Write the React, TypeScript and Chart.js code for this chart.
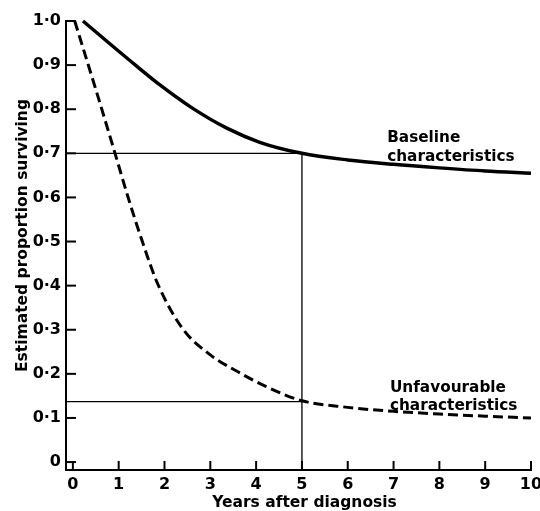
import React, { useEffect, useRef } from "react";
import { Chart, registerables } from "chart.js";

Chart.register(...registerables);

const X_TICKS = [0, 1, 2, 3, 4, 5, 6, 7, 8, 9, 10];
const Y_TICKS = [0, 0.1, 0.2, 0.3, 0.4, 0.5, 0.6, 0.7, 0.8, 0.9, 1.0];
const Y_LABELS = ["0", "0·1", "0·2", "0·3", "0·4", "0·5", "0·6", "0·7", "0·8", "0·9", "1·0"];

const X_TITLE = "Years after diagnosis";
const Y_TITLE = "Estimated proportion surviving";

const BASELINE = [
  { x: 0.22, y: 1.0 },
  { x: 0.8, y: 0.949 },
  { x: 1.4, y: 0.897 },
  { x: 1.9, y: 0.855 },
  { x: 2.6, y: 0.803 },
  { x: 3.36, y: 0.757 },
  { x: 4.08, y: 0.725 },
  { x: 5.0, y: 0.7 },
  { x: 6.0, y: 0.685 },
  { x: 7.0, y: 0.675 },
  { x: 8.0, y: 0.667 },
  { x: 9.0, y: 0.66 },
  { x: 10.0, y: 0.655 },
];

const UNFAVOURABLE = [
  { x: 0.04, y: 1.0 },
  { x: 0.5, y: 0.845 },
  { x: 0.92, y: 0.7 },
  { x: 1.2, y: 0.602 },
  { x: 1.5, y: 0.505 },
  { x: 1.86, y: 0.402 },
  { x: 2.4, y: 0.302 },
  { x: 3.0, y: 0.243 },
  { x: 3.65, y: 0.202 },
  { x: 4.2, y: 0.172 },
  { x: 5.0, y: 0.139 },
  { x: 6.0, y: 0.124 },
  { x: 7.0, y: 0.115 },
  { x: 8.0, y: 0.109 },
  { x: 9.0, y: 0.104 },
  { x: 10.0, y: 0.1 },
];

const X_MIN = -0.15;
const Y_MIN = -0.018;

const GUIDE_BASELINE = [
  { x: X_MIN, y: 0.7 },
  { x: 5, y: 0.7 },
  { x: 5, y: Y_MIN },
];
const GUIDE_UNFAV = [
  { x: X_MIN, y: 0.137 },
  { x: 5, y: 0.137 },
];

const LABELS = [
  { x: 6.86, y: 0.725, lines: ["Baseline", "characteristics"] },
  { x: 6.92, y: 0.159, lines: ["Unfavourable", "characteristics"] },
];

const FONT = "'DejaVu Sans', sans-serif";

const decorations = {
  id: "decorations",
  afterDraw(chart: any) {
    const { ctx, chartArea, scales } = chart;
    ctx.save();
    ctx.strokeStyle = "#000";
    ctx.lineWidth = 2;
    for (const v of Y_TICKS) {
      const py = scales.y.getPixelForValue(v);
      ctx.beginPath();
      ctx.moveTo(chartArea.left, py);
      ctx.lineTo(chartArea.left + 10, py);
      ctx.stroke();
    }
    for (const v of X_TICKS) {
      const px = scales.x.getPixelForValue(v);
      ctx.beginPath();
      ctx.moveTo(px, chartArea.bottom);
      ctx.lineTo(px, chartArea.bottom - 9);
      ctx.stroke();
    }
    ctx.fillStyle = "#000";
    ctx.font = `bold 15.3px ${FONT}`;
    ctx.textAlign = "left";
    ctx.textBaseline = "alphabetic";
    for (const lab of LABELS) {
      const px = scales.x.getPixelForValue(lab.x);
      const py = scales.y.getPixelForValue(lab.y);
      lab.lines.forEach((t, i) => ctx.fillText(t, px, py + i * 18.5));
    }
    // axis titles
    ctx.font = `bold 15.5px ${FONT}`;
    ctx.textAlign = "center";
    ctx.fillText(X_TITLE, (chartArea.left + chartArea.right) / 2 + 6, chart.height - 4);
    ctx.translate(27, (chartArea.top + chartArea.bottom) / 2 - 10);
    ctx.rotate(-Math.PI / 2);
    ctx.fillText(Y_TITLE, 0, 0);
    ctx.restore();
  },
};

export default function App() {
  const ref = useRef<HTMLCanvasElement>(null);
  useEffect(() => {
    if (!ref.current) return;
    const tickFont = { family: FONT, size: 16, weight: "bold" as const };
    const chart = new Chart(ref.current, {
      type: "line",
      data: {
        datasets: [
          {
            data: BASELINE,
            borderColor: "#000",
            borderWidth: 3.5,
            pointRadius: 0,
            cubicInterpolationMode: "monotone",
            clip: false as any,
          },
          {
            data: UNFAVOURABLE,
            borderColor: "#000",
            borderWidth: 3,
            borderDash: [10, 5],
            pointRadius: 0,
            cubicInterpolationMode: "monotone",
            clip: false as any,
          },
          {
            data: GUIDE_BASELINE,
            borderColor: "#000",
            borderWidth: 1.3,
            pointRadius: 0,
            tension: 0,
          },
          {
            data: GUIDE_UNFAV,
            borderColor: "#000",
            borderWidth: 1.3,
            pointRadius: 0,
            tension: 0,
          },
        ],
      },
      options: {
        animation: false,
        responsive: false,
        layout: { padding: { top: 21, right: 9, left: 0, bottom: 0 } },
        plugins: { legend: { display: false }, tooltip: { enabled: false } },
        scales: {
          x: {
            type: "linear",
            min: X_MIN,
            max: 10,
            afterBuildTicks: (s: any) => {
              s.ticks = X_TICKS.map((v) => ({ value: v }));
            },
            afterFit: (s: any) => {
              s.height = 41;
              s.paddingLeft = 0;
              s.paddingRight = 0;
            },
            grid: { display: true, drawOnChartArea: false, drawTicks: false, tickLength: 0, color: "#000" },
            border: { display: true, color: "#000", width: 2 },
            ticks: {
              color: "#000",
              font: tickFont,
              padding: 5,
              maxRotation: 0,
              autoSkip: false,
              callback: (v: any) => String(v),
            },
          },
          y: {
            type: "linear",
            min: Y_MIN,
            max: 1.0,
            afterBuildTicks: (s: any) => {
              s.ticks = Y_TICKS.map((v) => ({ value: v }));
            },
            afterFit: (s: any) => {
              s.width = 66;
            },
            grid: { display: true, drawOnChartArea: false, drawTicks: false, tickLength: 0, color: "#000" },
            border: { display: true, color: "#000", width: 2 },
            ticks: {
              color: "#000",
              font: tickFont,
              padding: 5,
              autoSkip: false,
              callback: (v: any) => {
                let best = 0;
                Y_TICKS.forEach((t, i) => {
                  if (Math.abs(t - v) < Math.abs(Y_TICKS[best] - v)) best = i;
                });
                return Y_LABELS[best];
              },
            },
          },
        },
      },
      plugins: [decorations],
    });
    return () => chart.destroy();
  }, []);
  return (
    <div style={{ position: "fixed", left: 0, top: 0, width: 540, height: 511, background: "#fff" }}>
      <canvas ref={ref} width={540} height={511} />
    </div>
  );
}
